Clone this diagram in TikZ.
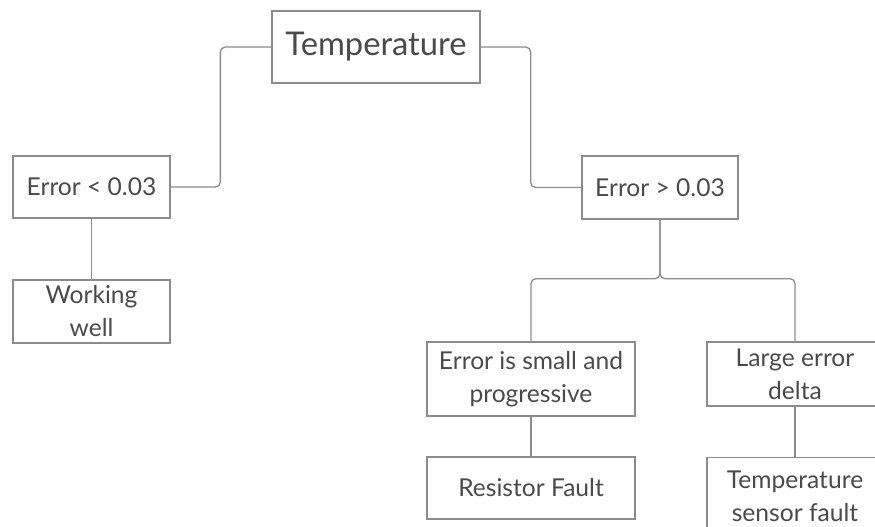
\documentclass[tikz,border=0pt]{standalone}
\usepackage{fontspec}
\setmainfont{Lato}
\usepackage{xcolor}
\definecolor{boxline}{HTML}{8C8C8C}
\definecolor{boxtext}{HTML}{4A4A4A}

\begin{document}
\begin{tikzpicture}[x=1pt, y=-1pt, every node/.style={draw=boxline, line width=1.3pt, text=boxtext, align=center, inner sep=1pt, font=\fontsize{24.6}{33}\selectfont}]
\useasboundingbox (0,0) rectangle (875,527);
\clip (0,0) rectangle (875,527);
\node[minimum width=208pt, minimum height=72pt, font=\fontsize{32.7}{36}\selectfont] (temp) at (376,47) {Temperature};
\node[minimum width=157pt, minimum height=62pt] (lo) at (91.5,187) {Error < 0.03};
\node[minimum width=157pt, minimum height=63pt] (well) at (91.5,311.5) {Working\\well};
\node[minimum width=156pt, minimum height=63pt] (hi) at (660,187.5) {Error > 0.03};
\node[minimum width=208pt, minimum height=74pt] (small) at (531,379) {Error is small and\\progressive};
\node[minimum width=176pt, minimum height=64pt] (large) at (795,374) {Large error\\delta};
\node[minimum width=208pt, minimum height=62pt] (resist) at (531,488) {Resistor Fault};
\node[minimum width=176pt, minimum height=78pt, anchor=north] (sensor) at (795,457) {Temperature\\sensor fault};
\draw[boxline, line width=1.3pt, rounded corners=5pt] (temp.west) -- ++(-51,0) |- (lo.east);
\draw[boxline, line width=1.3pt, rounded corners=5pt] (temp.east) -- ++(50,0) |- (hi.west);
\draw[boxline, line width=1.3pt, rounded corners=5pt] (hi.south) -- ++(0,59) -| (small.north);
\draw[boxline, line width=1.3pt, rounded corners=5pt] (hi.south) -- ++(0,59) -| (large.north);
\draw[boxline, line width=1.3pt] (lo.south) -- (well.north);
\draw[boxline, line width=1.3pt] (small.south) -- (resist.north);
\draw[boxline, line width=1.3pt] (large.south) -- (sensor.north);
\end{tikzpicture}
\end{document}
